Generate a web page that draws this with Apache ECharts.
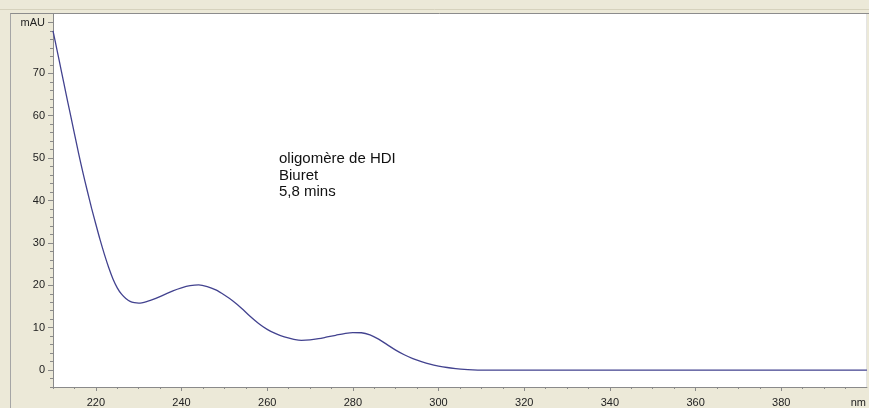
<!DOCTYPE html>
<html>
<head>
<meta charset="utf-8">
<script src="https://cdn.jsdelivr.net/npm/echarts@6/dist/echarts.min.js"></script>
<style>
  html, body { margin: 0; padding: 0; background: #ECE9D8; }
  #chart { width: 869px; height: 408px; }
</style>
</head>
<body>
<div id="chart"></div>
<script>
// UV spectrum: wavelength (nm) vs absorbance (mAU)
const wavelengths = [
  210, 211, 212, 213, 214, 215, 216, 217, 218, 219,
  220, 221, 222, 223, 224, 225, 226, 227, 228, 229,
  230, 232, 234, 236, 238, 240, 242, 244, 246, 248,
  250, 252, 254, 256, 258, 260, 262, 264, 266, 268,
  270, 272, 274, 276, 278, 280, 282, 284, 286, 288,
  290, 292, 294, 296, 298, 300, 302, 304, 306, 308,
  310, 320, 330, 340, 350, 360, 370, 380, 390, 400
];
const absorbance = [
  80.0, 75.2, 70.3, 65.4, 60.6, 55.8, 51.0, 46.5, 42.3, 38.2,
  34.4, 30.7, 27.3, 24.2, 21.5, 19.4, 17.9, 16.9, 16.2, 15.9,
  15.8, 16.2, 16.9, 17.8, 18.7, 19.4, 19.9, 20.1, 19.7, 18.9,
  17.7, 16.3, 14.6, 12.7, 11.0, 9.6, 8.6, 7.8, 7.3, 7.0,
  7.1, 7.4, 7.8, 8.2, 8.6, 8.85, 8.8, 8.3, 7.3, 6.0,
  4.7, 3.6, 2.7, 2.0, 1.4, 0.95, 0.6, 0.35, 0.15, 0.05,
  0.0, 0.0, 0.0, 0.0, 0.0, 0.0, 0.0, 0.0, 0.0, 0.0
];

// axis tick and label positions
const yMinorTicks = [-4, -2, 0, 2, 4, 6, 8, 10, 12, 14, 16, 18, 20, 22, 24, 26, 28, 30,
  32, 34, 36, 38, 40, 42, 44, 46, 48, 50, 52, 54, 56, 58, 60, 62, 64, 66, 68, 70,
  72, 74, 76, 78, 80, 82];
const yMajorTicks = [0, 10, 20, 30, 40, 50, 60, 70, 82];
const yLabels = [0, 10, 20, 30, 40, 50, 60, 70, 82];
const yUnitAt = 82;
const yUnit = 'mAU';

const xMinorTicks = [210, 215, 220, 225, 230, 235, 240, 245, 250, 255, 260, 265, 270,
  275, 280, 285, 290, 295, 300, 305, 310, 315, 320, 325, 330, 335, 340, 345, 350,
  355, 360, 365, 370, 375, 380, 385, 390, 395];
const xMajorTicks = [220, 240, 260, 280, 300, 320, 340, 360, 380];
const xLabels = [220, 240, 260, 280, 300, 320, 340, 360, 380, 398];
const xUnitAt = 398;
const xUnit = 'nm';

const annotation = ['oligomère de HDI', 'Biuret', '5,8 mins'];

const labelFont = { fontFamily: 'Liberation Sans', fontSize: 11, color: '#222' };
const axisColor = '#8a8a8a';

const chart = echarts.init(document.getElementById('chart'), null, { renderer: 'canvas' });

chart.setOption({
  animation: false,
  backgroundColor: '#ECE9D8',
  grid: {
    left: 53, right: 0, top: 14, bottom: 20,
    show: true, backgroundColor: '#ffffff', borderWidth: 0
  },
  xAxis: [
    {
      type: 'value', min: 210, max: 400, position: 'bottom',
      axisLine: { show: true, onZero: false, lineStyle: { color: axisColor, width: 1 } },
      axisTick: { show: true, customValues: xMinorTicks, length: 2, lineStyle: { color: axisColor } },
      axisLabel: { show: false },
      splitLine: { show: false }
    },
    {
      type: 'value', min: 210, max: 400, position: 'bottom',
      axisLine: { show: false, onZero: false },
      axisTick: { show: true, customValues: xMajorTicks, length: 4, lineStyle: { color: axisColor } },
      axisLabel: Object.assign({
        customValues: xLabels, margin: 10,
        formatter: v => (v === xUnitAt ? xUnit : String(v))
      }, labelFont),
      splitLine: { show: false }
    }
  ],
  yAxis: [
    {
      type: 'value', min: -4, max: 84, position: 'left',
      axisLine: { show: true, onZero: false, lineStyle: { color: axisColor, width: 1 } },
      axisTick: { show: true, customValues: yMinorTicks, length: 3, lineStyle: { color: axisColor } },
      axisLabel: { show: false },
      splitLine: { show: false }
    },
    {
      type: 'value', min: -4, max: 84, position: 'left',
      axisLine: { show: false, onZero: false },
      axisTick: { show: true, customValues: yMajorTicks, length: 5, lineStyle: { color: axisColor } },
      axisLabel: Object.assign({
        customValues: yLabels, margin: 8,
        formatter: v => (v === yUnitAt ? yUnit : String(v))
      }, labelFont),
      splitLine: { show: false }
    }
  ],
  series: [{
    type: 'line',
    xAxisIndex: 0,
    yAxisIndex: 0,
    data: wavelengths.map((w, i) => [w, absorbance[i]]),
    showSymbol: false,
    smooth: 0.3,
    lineStyle: { color: '#42428f', width: 1.3 },
    z: 5
  }],
  graphic: [
    // window frame lines around the plot
    { type: 'line', shape: { x1: 0, y1: 9.5, x2: 869, y2: 9.5 }, style: { stroke: '#d6d2bd', lineWidth: 1 }, silent: true },
    { type: 'line', shape: { x1: 10, y1: 13.5, x2: 869, y2: 13.5 }, style: { stroke: '#8c8c8c', lineWidth: 1 }, silent: true },
    { type: 'line', shape: { x1: 10.5, y1: 13.5, x2: 10.5, y2: 408 }, style: { stroke: '#a5a5a5', lineWidth: 1 }, silent: true },
    { type: 'line', shape: { x1: 866.5, y1: 14, x2: 866.5, y2: 387 }, style: { stroke: '#e4e4e4', lineWidth: 1 }, silent: true },
    {
      type: 'text', left: 279, top: 151, z: 10,
      style: {
        text: annotation.join('\n'),
        font: '15px "Liberation Sans"',
        lineHeight: 16.5,
        fill: '#111'
      }
    }
  ]
});
</script>
</body>
</html>
